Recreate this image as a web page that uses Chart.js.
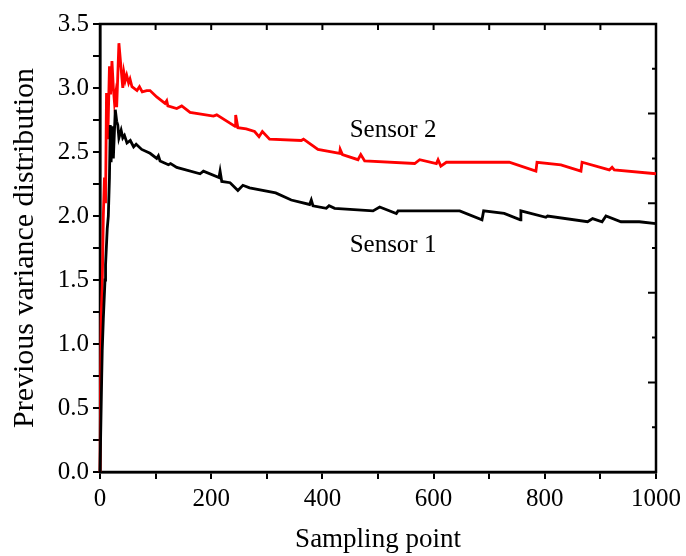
<!DOCTYPE html>
<html>
<head>
<meta charset="utf-8">
<script src="https://cdn.jsdelivr.net/npm/chart.js@4"></script>
<style>
  html, body { margin: 0; padding: 0; background: #fff; }
  #wrap { width: 686px; height: 556px; }
</style>
</head>
<body>
<div id="wrap"><canvas id="chart" width="686" height="556"></canvas></div>
<script>
// Sensor 1 (black)
let sensor1X = [0, 3, 4, 6, 9, 10, 13, 15, 17, 18.5, 20, 22, 24, 27.5, 30, 32, 34, 38, 41, 44, 48.5, 54.5, 60.5, 65, 75, 90,
    102, 105, 108, 123, 127, 138, 180, 186, 214, 216, 219, 234, 248, 257, 269, 316, 344, 377, 380, 383, 407, 412, 422,
    491, 503, 533, 536, 647, 687, 690, 727, 756, 757, 802, 805, 877, 886, 903, 910, 937, 970, 1000];
let sensor1Y = [0, 0.73, 0.95, 1.2, 1.5, 1.62, 1.9, 2.0, 2.3, 2.71, 2.42, 2.7, 2.45, 2.83, 2.74, 2.71, 2.61, 2.67, 2.61, 2.63, 2.57, 2.59, 2.54, 2.56, 2.52, 2.49,
    2.45, 2.47, 2.43, 2.40, 2.41, 2.38, 2.33, 2.35, 2.30, 2.35, 2.27, 2.26, 2.20, 2.24, 2.22, 2.18, 2.125, 2.09, 2.125, 2.08, 2.06, 2.08, 2.06,
    2.04, 2.07, 2.02, 2.04, 2.04, 1.97, 2.04, 2.02, 1.97, 2.04, 1.99, 2.0, 1.955, 1.98, 1.955, 2.0, 1.955, 1.955, 1.94];

// Sensor 2 (red)
let sensor2X = [0, 2, 4, 6, 8, 10, 11.7, 14, 17, 19, 21.5, 24, 26, 28, 30, 34, 38, 41, 43, 45.5, 48, 51.5, 54, 57.5, 66.5, 71, 76, 84,
    90, 102, 117, 120, 122, 138, 147, 162, 204, 210, 243, 244, 248, 263, 278, 286, 292, 305, 362, 366, 392, 431, 432, 436,
    464, 469, 476, 566, 575, 605, 608, 613, 623, 736, 784, 786, 829, 865, 867, 916, 921, 925, 1000];
let sensor2Y = [0, 1.2, 1.45, 2.0, 2.3, 2.1, 2.96, 2.6, 3.17, 2.95, 3.21, 3.0, 2.89, 2.95, 2.85, 3.35, 3.15, 3.0, 3.12, 3.06, 3.10, 3.04, 3.07, 3.01, 2.98, 3.01, 2.97, 2.98,
    2.98, 2.93, 2.88, 2.90, 2.86, 2.84, 2.86, 2.81, 2.78, 2.79, 2.70, 2.79, 2.69, 2.68, 2.66, 2.62, 2.66, 2.60, 2.59, 2.60, 2.52, 2.49, 2.52, 2.48,
    2.44, 2.48, 2.43, 2.41, 2.44, 2.41, 2.44, 2.39, 2.42, 2.42, 2.35, 2.42, 2.40, 2.35, 2.42, 2.36, 2.38, 2.36, 2.33];

let seriesNames = ["Sensor 1", "Sensor 2"];

function toPoints(xs, ys) {
    return xs.map(function(x, i) { return {x: x, y: ys[i]}; });
}

const serif = "'Liberation Serif', 'Times New Roman', serif";

// frame, inward ticks on top/right, and curve labels
let framePlugin = {
    id: 'frame',
    beforeDatasetsDraw: function(chart) {
        let ctx = chart.ctx;
        let a = chart.chartArea;
        let xs = chart.scales.x;
        let ys = chart.scales.y;
        ctx.save();
        ctx.strokeStyle = '#000';
        ctx.lineWidth = 2.5;
        ctx.strokeRect(a.left, a.top, a.right - a.left, a.bottom - a.top);
        ctx.lineWidth = 2;
        ctx.beginPath();
        for (let v = 100; v < 1000; v += 100) {
            let px = xs.getPixelForValue(v);
            ctx.moveTo(px, a.top);
            ctx.lineTo(px, a.top + 6);
        }
        for (let i = 1; i < 10; i++) {
            let py = ys.getPixelForValue(i * 0.35);
            let len = (i % 2 === 0) ? 8 : 4;
            ctx.moveTo(a.right, py);
            ctx.lineTo(a.right - len, py);
        }
        ctx.stroke();
        ctx.restore();
    },
    afterDatasetsDraw: function(chart) {
        let ctx = chart.ctx;
        let xs = chart.scales.x;
        let ys = chart.scales.y;
        ctx.save();
        ctx.fillStyle = '#000';
        ctx.font = "25px " + serif;
        ctx.textBaseline = 'alphabetic';
        ctx.textAlign = 'left';
        ctx.fillText(seriesNames[1], xs.getPixelForValue(449), ys.getPixelForValue(2.615));
        ctx.fillText(seriesNames[0], xs.getPixelForValue(449), ys.getPixelForValue(1.72));
        ctx.restore();
    }
};

let chartCanva = document.getElementById('chart');
let chart = new Chart(chartCanva, {
    type: 'line',
    data: {
        datasets: [
            {
                label: seriesNames[0],
                data: toPoints(sensor1X, sensor1Y),
                borderColor: '#000000',
                borderWidth: 2.8,
                pointRadius: 0,
                tension: 0,
                clip: false
            },
            {
                label: seriesNames[1],
                data: toPoints(sensor2X, sensor2Y),
                borderColor: '#ff0000',
                borderWidth: 2.8,
                pointRadius: 0,
                tension: 0,
                clip: false
            }
        ]
    },
    options: {
        responsive: false,
        animation: false,
        layout: {
            padding: {left: 0, right: 29, top: 24, bottom: 0}
        },
        plugins: {
            legend: { display: false },
            tooltip: { enabled: false }
        },
        scales: {
            x: {
                type: 'linear',
                min: 0,
                max: 1000,
                afterFit: function(s) { s.height = 84; },
                border: { display: true, color: '#000', width: 2.5 },
                grid: { drawOnChartArea: false, color: '#000', lineWidth: 2, tickLength: 7 },
                ticks: {
                    stepSize: 100,
                    autoSkip: false,
                    maxRotation: 0,
                    color: '#000',
                    padding: 5,
                    font: { family: serif, size: 25 },
                    callback: function(v) { return v % 200 === 0 ? String(v) : ''; }
                },
                title: {
                    display: true,
                    text: 'Sampling point',
                    color: '#000',
                    font: { family: serif, size: 27 },
                    padding: { bottom: 0 }
                }
            },
            y: {
                type: 'linear',
                min: 0,
                max: 3.5,
                afterFit: function(s) { s.width = 100; },
                border: { display: true, color: '#000', width: 2.5 },
                grid: { drawOnChartArea: false, color: '#000', lineWidth: 2, tickLength: 7 },
                ticks: {
                    stepSize: 0.25,
                    autoSkip: false,
                    color: '#000',
                    padding: 4,
                    font: { family: serif, size: 25 },
                    callback: function(v) {
                        return Math.abs(v * 2 - Math.round(v * 2)) < 1e-6 ? v.toFixed(1) : '';
                    }
                },
                title: {
                    display: true,
                    text: 'Previous variance distribution',
                    color: '#000',
                    font: { family: serif, size: 30 },
                    padding: { top: 7 }
                }
            }
        }
    },
    plugins: [framePlugin]
});
</script>
</body>
</html>
